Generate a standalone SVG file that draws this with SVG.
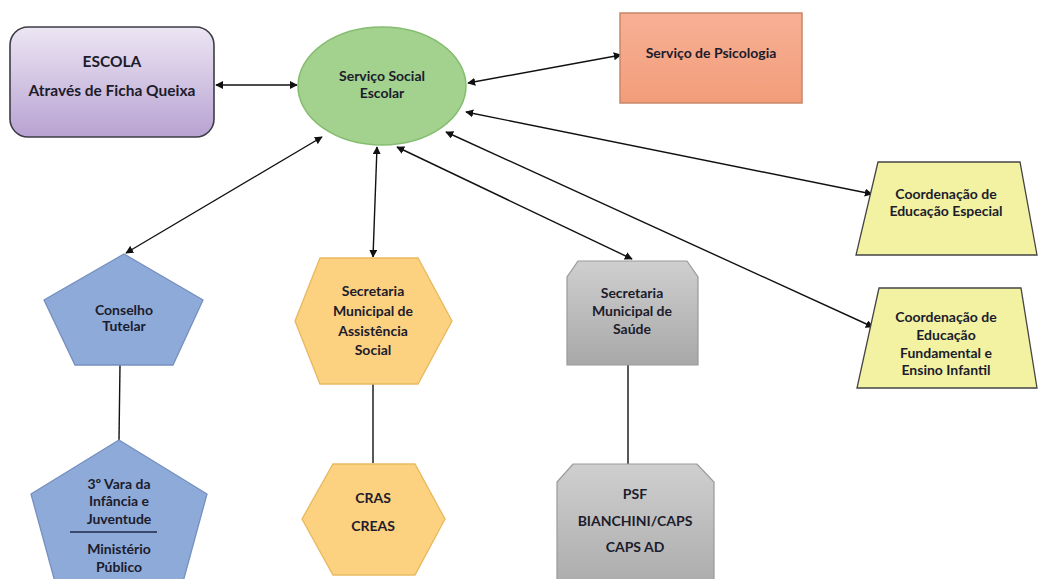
<svg xmlns="http://www.w3.org/2000/svg" width="1041" height="579" viewBox="0 0 1041 579">
<defs>
<marker id="ah" viewBox="0 0 10 10" refX="9" refY="5" markerWidth="8" markerHeight="8" markerUnits="userSpaceOnUse" orient="auto-start-reverse">
<path d="M0,0 L10,5 L0,10 z" fill="#111"/>
</marker>
<linearGradient id="gPurple" x1="0" y1="0" x2="0" y2="1"><stop offset="0" stop-color="#ece6f3"/><stop offset="1" stop-color="#b8a2d2"/></linearGradient>
<linearGradient id="gSalmon" x1="0" y1="0" x2="0" y2="1"><stop offset="0" stop-color="#f7b095"/><stop offset="1" stop-color="#f29d7a"/></linearGradient>
<linearGradient id="gGray" x1="0" y1="0" x2="0" y2="1"><stop offset="0" stop-color="#cfcfcf"/><stop offset="1" stop-color="#a8a8a8"/></linearGradient>
</defs>
<style>
.t{font-family:Lato,"Liberation Sans",sans-serif;font-weight:700;font-size:14px;fill:#1c1c2c;text-anchor:middle;dominant-baseline:central}
.b{font-size:15.5px}
.c{stroke:#111;stroke-width:1.4;fill:none;marker-start:url(#ah);marker-end:url(#ah)}
.l{stroke:#111;stroke-width:1.4;fill:none}
</style>
<rect width="1041" height="579" fill="#ffffff"/>
<g id="connectors">
<line class="c" x1="216" y1="85" x2="297" y2="85"/>
<line class="c" x1="468" y1="83" x2="621" y2="55"/>
<line class="c" x1="466" y1="112" x2="872" y2="194"/>
<line class="c" x1="446" y1="132" x2="873" y2="327"/>
<line class="c" x1="397" y1="147" x2="632" y2="259"/>
<line class="c" x1="377" y1="147" x2="373" y2="257"/>
<line class="c" x1="322" y1="137" x2="126" y2="253"/>
<line class="l" x1="120" y1="365" x2="119" y2="440"/>
<line class="l" x1="373" y1="384" x2="373" y2="463"/>
<line class="l" x1="628" y1="365" x2="628" y2="464"/>
</g>
<g id="escola">
<rect x="10" y="27" width="204" height="110" rx="18" fill="url(#gPurple)" stroke="#3c3c46" stroke-width="1.6"/>
<text class="t b" x="112" y="61">ESCOLA</text>
<text class="t b" x="112" y="90">Através de Ficha Queixa</text>
</g>
<g id="servico-social">
<ellipse cx="382" cy="86" rx="84" ry="59" fill="#a3d18e" stroke="#85bd70" stroke-width="1.5"/>
<text class="t" x="382" y="75">Serviço Social</text>
<text class="t" x="382" y="92">Escolar</text>
</g>
<g id="psicologia">
<rect x="620" y="13" width="182" height="90" fill="url(#gSalmon)" stroke="#c98667" stroke-width="1.5"/>
<text class="t" x="711" y="52">Serviço de Psicologia</text>
</g>
<g id="coord-especial">
<polygon points="878,162 1020,162 1037,255 856,255" fill="#f2f2a2" stroke="#444" stroke-width="1.3"/>
<text class="t" x="946" y="193">Coordenação de</text>
<text class="t" x="946" y="210">Educação Especial</text>
</g>
<g id="coord-fundamental">
<polygon points="879,288 1021,288 1037,388 857,388" fill="#f2f2a2" stroke="#444" stroke-width="1.3"/>
<text class="t" x="946" y="316">Coordenação de</text>
<text class="t" x="946" y="334">Educação</text>
<text class="t" x="946" y="352">Fundamental e</text>
<text class="t" x="946" y="369">Ensino Infantil</text>
</g>
<g id="conselho">
<polygon points="124,254 203,300 173,365 75,365 44,300" fill="#8eaad9" stroke="#7690bf" stroke-width="1.3"/>
<text class="t" x="124" y="309">Conselho</text>
<text class="t" x="124" y="325">Tutelar</text>
</g>
<g id="vara">
<polygon points="119,440 207,494 174,615 64,615 31,494" fill="#8eaad9" stroke="#7690bf" stroke-width="1.3"/>
<text class="t" x="119" y="483">3º Vara da</text>
<text class="t" x="119" y="500">Infância e</text>
<text class="t" x="119" y="518">Juventude</text>
<line x1="70" y1="532" x2="157" y2="532" stroke="#1c2a4a" stroke-width="1.5"/>
<text class="t" x="119" y="548">Ministério</text>
<text class="t" x="119" y="566">Público</text>
</g>
<g id="assistencia">
<polygon points="320,258 418,258 452,321 418,384 320,384 295,321" fill="#fcd180" stroke="#e8b95e" stroke-width="1.3"/>
<text class="t" x="373" y="290">Secretaria</text>
<text class="t" x="373" y="310">Municipal de</text>
<text class="t" x="373" y="330">Assistência</text>
<text class="t" x="373" y="349">Social</text>
</g>
<g id="cras">
<polygon points="333,464 415,464 445,519 415,575 333,575 302,519" fill="#fcd180" stroke="#e8b95e" stroke-width="1.3"/>
<text class="t" x="373" y="497">CRAS</text>
<text class="t" x="373" y="525">CREAS</text>
</g>
<g id="saude">
<polygon points="578,261 687,261 698,277 698,365 567,365 567,277" fill="url(#gGray)" stroke="#999" stroke-width="1.2"/>
<text class="t" x="632" y="292">Secretaria</text>
<text class="t" x="632" y="310">Municipal de</text>
<text class="t" x="632" y="328">Saúde</text>
</g>
<g id="psf">
<polygon points="573,464 697,464 714,482 714,600 557,600 557,482" fill="url(#gGray)" stroke="#999" stroke-width="1.2"/>
<text class="t" x="635" y="493">PSF</text>
<text class="t" x="635" y="520">BIANCHINI/CAPS</text>
<text class="t" x="635" y="546">CAPS AD</text>
</g>
</svg>
